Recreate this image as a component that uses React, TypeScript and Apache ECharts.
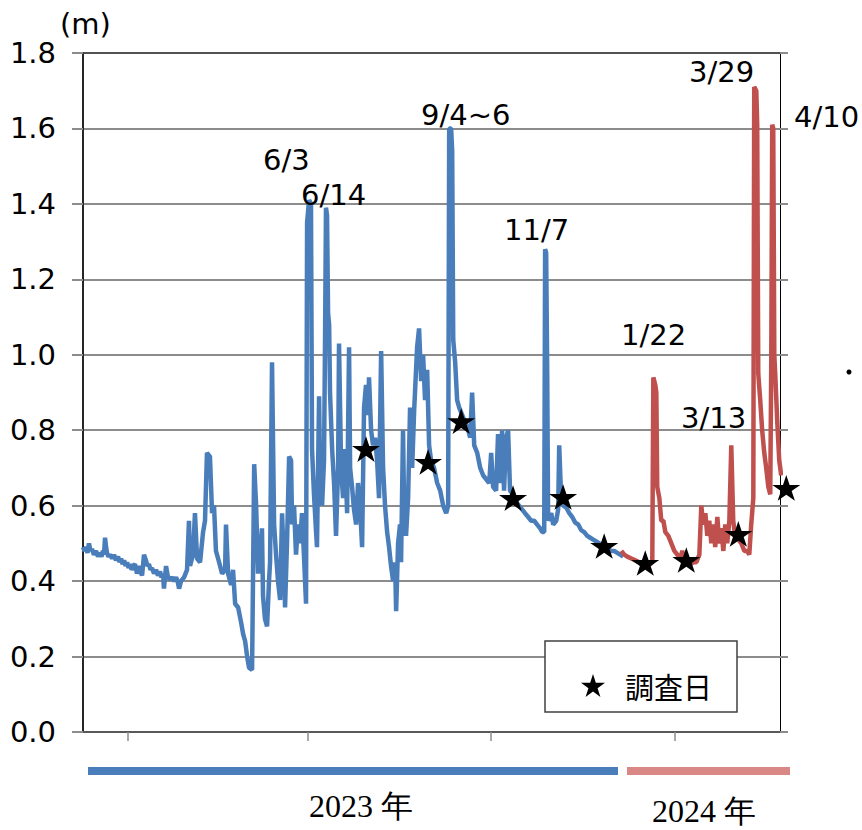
import React, { useEffect, useRef } from "react";
import * as echarts from "echarts";

// x values: days counted from 2023-01-01 (day 0)
const blueDays = [
  1.0, 2.0, 3.0, 4.0, 5.0, 6.0, 7.0, 8.3, 9.7, 11.0, 12.3, 13.3, 14.3, 15.0, 15.7, 16.4, 17.0, 18.0, 19.0, 20.4,
  21.7, 23.0, 24.4, 25.4, 26.4, 27.4, 28.4, 29.4, 30.4, 31.4, 32.4, 33.4, 34.4, 35.7, 37.0, 38.4, 39.4, 40.4, 41.7, 43.0,
  44.0, 45.0, 46.0, 47.0, 48.4, 49.7, 51.0, 52.4, 53.4, 54.4, 55.0, 56.4, 57.7, 59.0, 60.4, 61.8, 63.1, 64.1, 65.1, 66.4,
  67.4, 68.4, 69.4, 70.4,
  71.7, 72.4, 74.4,
  75.7, 77.1, 79.1, 81.1, 82.4, 83.7, 85.7, 87.1, 88.4, 89.7, 91.8, 93.8, 95.8, 96.4, 97.8, 99.8, 101.1, 102.5, 104.5, 106.5,
  107.8, 109.2, 110.5, 111.8, 113.8, 115.2, 116.5, 117.8, 119.1, 120.4, 121.1, 122.4, 123.8, 125.1, 125.8, 127.1, 128.5, 129.8, 131.1, 132.5,
  133.8, 135.1, 135.8, 137.1, 138.5, 139.8, 140.5, 141.8, 143.1, 144.5, 145.8, 147.1, 148.5, 149.8, 150.5, 151.8, 153.1, 153.8, 155.1, 156.5,
  157.1, 158.5, 159.1, 160.5, 161.8, 162.5, 163.1, 163.8, 164.5, 165.2, 165.8, 167.2, 168.5, 169.8, 171.2, 171.8, 173.2, 174.5, 175.8, 177.2,
  178.5, 179.2, 180.5, 181.8, 183.2, 184.5, 185.8, 187.2, 188.5, 189.8, 191.2, 191.8, 193.2, 194.5, 195.9, 197.2, 198.5, 199.9, 201.2, 202.5,
  203.9, 205.2, 206.5, 207.9, 209.2, 209.9, 211.2, 212.5, 213.2, 214.5, 215.2, 216.5, 217.9, 219.2, 220.6, 221.9, 223.9, 225.2, 226.6, 227.9,
  229.2, 230.6, 231.9, 233.2, 235.2, 237.3, 239.3, 241.3, 243.3, 244.6, 245.3, 246.6, 247.3, 248.0, 249.3, 250.6, 252.0, 254.0, 256.0, 258.0,
  259.3, 260.6, 262.0, 264.0, 266.0, 268.0, 270.0, 272.0, 273.3, 274.6, 276.6, 277.9, 279.3, 280.6, 281.9, 283.3, 284.6, 285.9, 287.9, 289.9,
  291.9, 293.9, 295.9, 298.0, 300.0, 302.0, 304.0, 306.0, 307.3, 308.7, 309.3, 310.0, 310.7, 311.3, 313.4, 314.7, 316.7, 318.0, 318.7, 320.0,
  321.4, 323.4, 325.4, 327.4, 329.4, 331.4, 333.4, 335.4, 337.4, 339.4, 341.4, 343.4, 345.4, 347.4, 349.4, 351.4, 353.4, 355.4, 357.4, 359.4,
  361.4,
];
const blueLevels = [
  0.49, 0.48, 0.49, 0.475, 0.5, 0.48, 0.485, 0.47, 0.48, 0.465, 0.475, 0.465, 0.48, 0.47, 0.515, 0.49, 0.475, 0.465, 0.47, 0.46,
  0.47, 0.455, 0.465, 0.45, 0.46, 0.445, 0.455, 0.44, 0.45, 0.435, 0.445, 0.43, 0.44, 0.445, 0.42, 0.44, 0.425, 0.415, 0.47, 0.455,
  0.44, 0.445, 0.43, 0.435, 0.42, 0.43, 0.415, 0.425, 0.41, 0.42, 0.38, 0.44, 0.41, 0.405, 0.41, 0.4, 0.41, 0.4, 0.38, 0.4,
  0.405, 0.41, 0.42, 0.43,
  0.56, 0.44, 0.47,
  0.58, 0.46, 0.45, 0.53, 0.56, 0.74, 0.73, 0.58, 0.6, 0.48, 0.45, 0.42, 0.43, 0.55, 0.42, 0.39, 0.43, 0.34, 0.33, 0.29,
  0.26, 0.24, 0.2, 0.17, 0.165, 0.71, 0.6, 0.42, 0.46, 0.54, 0.36, 0.3, 0.28, 0.4, 0.45, 0.98, 0.55, 0.47, 0.4, 0.35,
  0.58, 0.44, 0.33, 0.5, 0.73, 0.72, 0.55, 0.6, 0.47, 0.55, 0.5, 0.58, 0.46, 0.34, 1.35, 1.41, 1.4, 0.75, 0.63, 0.53,
  0.49, 0.89, 0.7, 0.6, 0.72, 1.05, 1.39, 1.37, 1.11, 1.08, 0.9, 0.75, 0.66, 0.52, 0.7, 1.03, 0.7, 0.62, 0.75, 0.58,
  1.02, 0.7, 0.65, 0.59, 0.55, 0.66, 0.6, 0.49, 0.86, 0.92, 0.84, 0.94, 0.8, 0.76, 0.78, 0.72, 0.62, 1.01, 0.7, 0.6,
  0.53, 0.49, 0.44, 0.4, 0.45, 0.32, 0.5, 0.55, 0.45, 0.8, 0.6, 0.52, 0.62, 0.86, 0.7, 0.85, 1.02, 1.07, 0.93, 1.0,
  0.88, 0.96, 0.76, 0.72, 0.7, 0.66, 0.64, 0.6, 0.58, 0.6, 1.6, 1.6, 1.54, 1.04, 0.98, 0.88, 0.86, 0.84, 0.82, 0.8,
  0.78, 0.9, 0.76, 0.74, 0.7, 0.68, 0.67, 0.66, 0.74, 0.65, 0.64, 0.79, 0.66, 0.8, 0.64, 0.78, 0.8, 0.64, 0.63, 0.61,
  0.6, 0.59, 0.58, 0.57, 0.56, 0.56, 0.55, 0.54, 0.53, 0.53, 1.28, 1.27, 0.95, 0.56, 0.58, 0.55, 0.56, 0.59, 0.76, 0.62,
  0.6, 0.595, 0.58, 0.57, 0.555, 0.55, 0.535, 0.53, 0.52, 0.515, 0.51, 0.505, 0.5, 0.495, 0.49, 0.485, 0.48, 0.48, 0.475, 0.47,
  0.465,
];

const redDays = [
  360.1, 362.1, 364.1, 366.8, 369.5, 372.1, 374.8, 377.5, 379.5, 380.8, 381.5, 382.8, 383.5, 384.1, 385.5, 386.8, 388.2, 389.5, 391.5, 393.5,
  395.5, 397.5, 399.5, 400.8, 402.1, 404.2, 406.2, 408.2, 410.2, 412.2, 413.5, 414.8, 416.2, 417.5, 418.8, 420.2, 421.5, 422.8, 424.2, 425.5,
  426.8, 428.2, 429.5, 430.8, 432.2, 433.5, 434.8, 436.1, 438.2, 440.2, 442.2, 444.2, 445.5, 446.8, 448.2, 448.8, 450.2, 450.8, 451.5, 452.8,
  454.1, 455.5, 456.8, 458.2, 459.5, 460.2, 460.8, 461.5, 462.2, 462.8, 464.2, 465.5, 466.8,
];
const redLevels = [
  0.48, 0.47, 0.465, 0.46, 0.455, 0.45, 0.445, 0.44, 0.445, 0.45, 0.94, 0.92, 0.9, 0.65, 0.62, 0.56, 0.56, 0.53, 0.52, 0.5,
  0.48, 0.47, 0.46, 0.48, 0.46, 0.45, 0.445, 0.45, 0.45, 0.47, 0.6, 0.55, 0.58, 0.52, 0.56, 0.5, 0.55, 0.49, 0.57, 0.5,
  0.54, 0.48, 0.55, 0.5, 0.56, 0.76, 0.56, 0.52, 0.51, 0.5, 0.48, 0.48, 0.47, 0.55, 0.62, 1.71, 1.7, 1.61, 0.95, 0.88,
  0.8, 0.74, 0.7, 0.65, 0.63, 1.0, 1.61, 1.6, 1.0, 0.95, 0.82, 0.72, 0.68,
];

const surveyDays = [189.8, 231.2, 253.3, 287.9, 321.3, 348.7, 376.1, 403.5, 438.2, 470.2];
const surveyLevels = [0.75, 0.716, 0.824, 0.62, 0.623, 0.493, 0.448, 0.456, 0.525, 0.647];

// month boundaries used as x ticks: 2023-02-01, 2023-06-01, 2023-10-01, 2024-02-01
const tickDays = [31, 151, 273, 396];

const peakLabels = ["6/3", "6/14", "9/4~6", "11/7", "1/22", "3/13", "3/29", "4/10"];
const peakLabelPos = [
  [263, 160], [301, 195], [421, 115], [504, 230], [621, 335], [681, 418], [689, 72], [794, 117],
];
const yearLabels = ["2023 年", "2024 年"];
const seriesNames = ["2023", "2024", "調査日"];
const unitLabel = "(m)";

const STAR =
  "path://M100,0L122.45,69.1L195.11,69.1L136.33,111.8L158.78,180.9L100,138.2L41.22,180.9L63.67,111.8L4.89,69.1L77.55,69.1Z";

const BLUE = "#4a7ebb";
const RED = "#c0504d";
const GRID = "#8c8c8c";
const FONT = '"DejaVu Sans", Verdana, sans-serif';
const SERIF = '"Liberation Serif", "Times New Roman", serif';

export default function App() {
  const ref = useRef<HTMLDivElement>(null);

  useEffect(() => {
    if (!ref.current) return;
    const chart = echarts.init(ref.current, null, { renderer: "svg" });

    const blue = blueDays.map((d, i) => [d, blueLevels[i]]);
    const red = redDays.map((d, i) => [d, redLevels[i]]);
    const stars = surveyDays.map((d, i) => [d, surveyLevels[i]]);

    const graphics: any[] = [
      {
        type: "text",
        left: 60,
        top: 9,
        style: { text: unitLabel, fontSize: 29, fontFamily: FONT, fill: "#000" },
      },
      ...peakLabels.map((t, i) => ({
        type: "text",
        x: peakLabelPos[i][0],
        y: peakLabelPos[i][1],
        style: {
          text: t,
          fontSize: 29,
          fontFamily: FONT,
          fill: "#000",
          align: "left",
          verticalAlign: "middle",
        },
        z: 10,
      })),
      { type: "circle", shape: { cx: 849, cy: 372, r: 2.5 }, style: { fill: "#000" } },
      { type: "rect", shape: { x: 88, y: 767, width: 530, height: 8 }, style: { fill: BLUE } },
      { type: "rect", shape: { x: 627, y: 767, width: 163, height: 8 }, style: { fill: "#d98886" } },
      {
        type: "text",
        x: 361,
        y: 806,
        style: {
          text: yearLabels[0],
          fontSize: 32,
          fontFamily: SERIF,
          fill: "#000",
          align: "center",
          verticalAlign: "middle",
        },
      },
      {
        type: "text",
        x: 704,
        y: 811,
        style: {
          text: yearLabels[1],
          fontSize: 32,
          fontFamily: SERIF,
          fill: "#000",
          align: "center",
          verticalAlign: "middle",
        },
      },
    ];

    chart.setOption({
      animation: false,
      backgroundColor: "#fff",
      grid: { left: 83, right: 82, top: 53, bottom: 98, outerBoundsMode: "none" },
      xAxis: [
        {
          type: "value",
          min: 1,
          max: 466,
          position: "bottom",
          axisLine: { show: true, onZero: false, lineStyle: { color: "#595959", width: 2 } },
          axisTick: { show: true, customValues: tickDays, length: 9, lineStyle: { color: GRID, width: 1.5 } },
          axisLabel: { show: false },
          splitLine: { show: false },
        },
        {
          type: "value",
          min: 1,
          max: 466,
          position: "top",
          axisLine: { show: true, onZero: false, lineStyle: { color: "#404040", width: 1.5 } },
          axisTick: { show: false },
          axisLabel: { show: false },
          splitLine: { show: false },
        },
      ],
      yAxis: [
        {
          type: "value",
          min: 0,
          max: 1.8,
          interval: 0.2,
          position: "left",
          axisLine: { show: true, lineStyle: { color: "#262626", width: 2 } },
          axisTick: { show: true, length: 11, lineStyle: { color: GRID, width: 2 } },
          axisLabel: {
            formatter: (v: number) => v.toFixed(1),
            fontSize: 29,
            fontFamily: FONT,
            color: "#000",
            margin: 27,
          },
          splitLine: { show: true, lineStyle: { color: GRID, width: 2 } },
        },
        {
          type: "value",
          min: 0,
          max: 1.8,
          interval: 0.2,
          position: "right",
          axisLine: { show: true, lineStyle: { color: "#000", width: 1 } },
          axisTick: { show: true, length: 8, lineStyle: { color: GRID, width: 2 } },
          axisLabel: { show: false },
          splitLine: { show: false },
        },
      ],
      legend: {
        data: [{ name: seriesNames[2], icon: STAR, itemStyle: { color: "#000", opacity: 1 } }],
        left: 545,
        top: 641,
        padding: [30, 25, 12, 36],
        itemWidth: 24,
        itemHeight: 23,
        itemGap: 0,
        backgroundColor: "#fff",
        borderColor: "#404040",
        borderWidth: 1.5,
        selectedMode: false,
        textStyle: {
          fontSize: 29,
          fontFamily: '"Noto Sans CJK JP", sans-serif',
          color: "#000",
          padding: [0, 0, 0, 15],
        },
      },
      graphic: graphics,
      series: [
        {
          type: "line",
          name: seriesNames[0],
          data: blue,
          symbol: "none",
          lineStyle: { color: BLUE, width: 4.5, join: "bevel" },
          z: 2,
        },
        {
          type: "line",
          name: seriesNames[1],
          data: red,
          symbol: "none",
          lineStyle: { color: RED, width: 4.5, join: "bevel" },
          z: 3,
        },
        {
          type: "scatter",
          name: seriesNames[2],
          data: stars,
          symbol: STAR,
          symbolSize: [28, 27],
          symbolKeepAspect: true,
          itemStyle: { color: "#000", opacity: 1 },
          clip: false,
          z: 5,
        },
      ],
    });

    return () => chart.dispose();
  }, []);

  return (
    <div
      ref={ref}
      style={{ position: "absolute", left: 0, top: 0, width: 862, height: 830 }}
    />
  );
}
